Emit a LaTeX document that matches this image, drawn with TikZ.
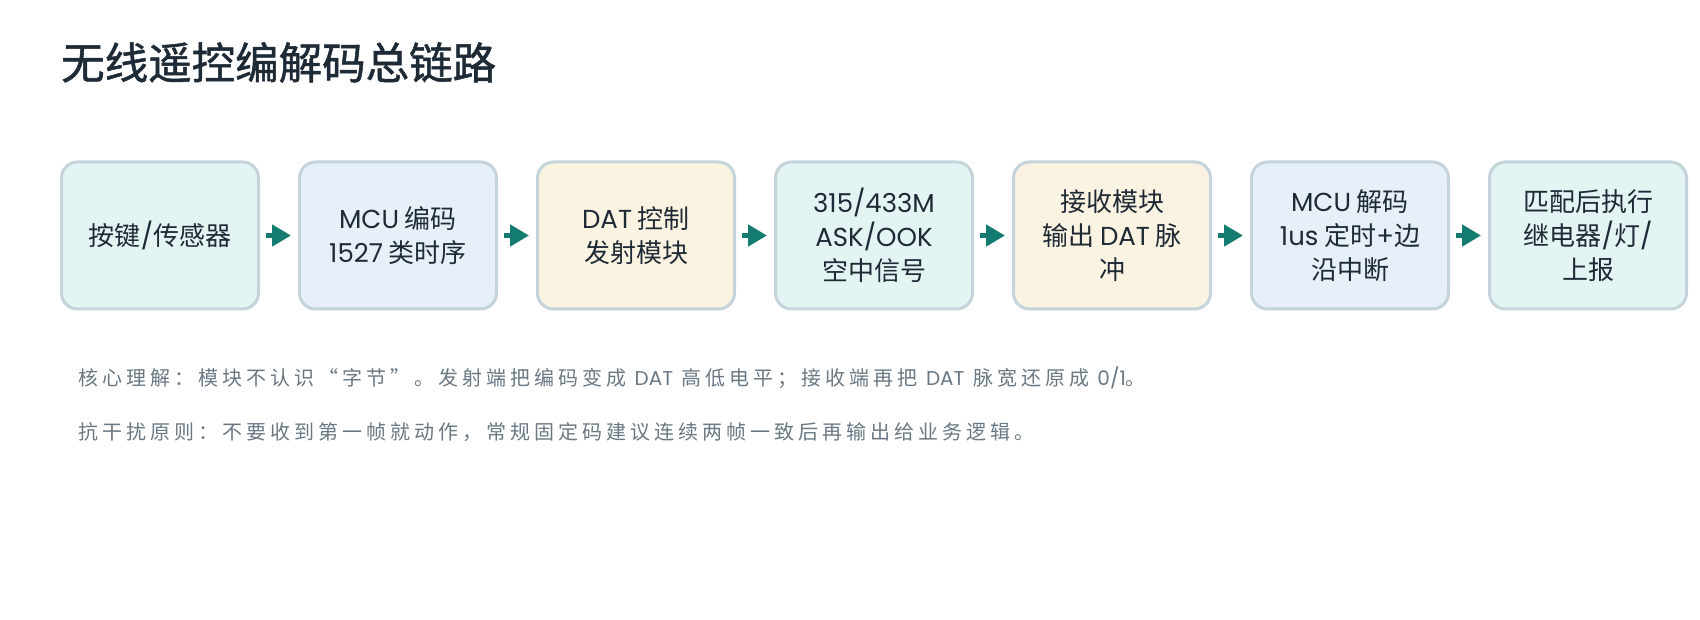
\documentclass[tikz,border=0pt]{standalone}
\usepackage{fontspec}
\setmainfont{Noto Sans CJK SC}
\newfontfamily\lat{Poppins}
\newfontfamily\titlefont[FakeBold=1.2]{Noto Sans CJK SC}
\newfontfamily\notefont[LetterSpace=20]{Noto Sans CJK SC}
\usetikzlibrary{arrows.meta}
\definecolor{ink}{HTML}{1E2A36}
\definecolor{edge}{HTML}{C5D4DB}
\definecolor{fteal}{HTML}{E3F5F3}
\definecolor{fblue}{HTML}{E7EFF9}
\definecolor{fcream}{HTML}{FBF3E1}
\definecolor{arr}{HTML}{137B6F}
\definecolor{note}{HTML}{6A7884}
\tikzset{
  stagebox/.style={draw=edge, line width=3pt, rounded corners=16pt,
    minimum width=197pt, minimum height=147pt, inner sep=0pt,
    align=center, text=ink, font=\fontsize{26}{34}\selectfont},
  flow/.style={draw=arr, line width=5pt, -{Triangle[length=19pt,width=21pt]}},
  notetext/.style={anchor=base west, inner sep=0pt, text=note, font=\fontsize{20}{24}\selectfont\notefont},
}
\begin{document}
\begin{tikzpicture}[x=1pt,y=-1pt]
\useasboundingbox (0,0) rectangle (1700,620);
\fill[white] (0,0) rectangle (1700,620);
\node[anchor=base west, inner sep=0pt, text=ink, font=\fontsize{43.5}{50}\selectfont\titlefont] (title) at (61,79) {无线遥控编解码总链路};

\node[stagebox, fill=fteal]  (s1) at (160,235.5)  {按键{\lat/}传感器};
\node[stagebox, fill=fblue]  (s2) at (398,235.5)  {{\lat MCU} 编码\\{\lat 1527} 类时序};
\node[stagebox, fill=fcream] (s3) at (636,235.5)  {{\lat DAT} 控制\\发射模块};
\node[stagebox, fill=fteal]  (s4) at (874,235.5)  {{\lat 315/433M}\\{\lat ASK/OOK}\\空中信号};
\node[stagebox, fill=fcream] (s5) at (1112,235.5) {接收模块\\输出 {\lat DAT} 脉\\冲};
\node[stagebox, fill=fblue]  (s6) at (1350,235.5) {{\lat MCU} 解码\\{\lat 1us} 定时{\lat +}边\\沿中断};
\node[stagebox, fill=fteal]  (s7) at (1588,235.5) {匹配后执行\\继电器{\lat /}灯{\lat /}\\上报};

\foreach \a/\b in {s1/s2,s2/s3,s3/s4,s4/s5,s5/s6,s6/s7}
  \draw[flow] ([xshift=6pt]\a.east) -- ([xshift=-7pt]\b.west);

\node[notetext] (n1) at (78,385)
  {核心理解：模块不认识“字节”。发射端把编码变成 {\lat DAT} 高低电平；接收端再把 {\lat DAT} 脉宽还原成 {\lat 0/1}。};
\node[notetext] (n2) at (78,439)
  {抗干扰原则：不要收到第一帧就动作，常规固定码建议连续两帧一致后再输出给业务逻辑。};
\end{tikzpicture}
\end{document}
